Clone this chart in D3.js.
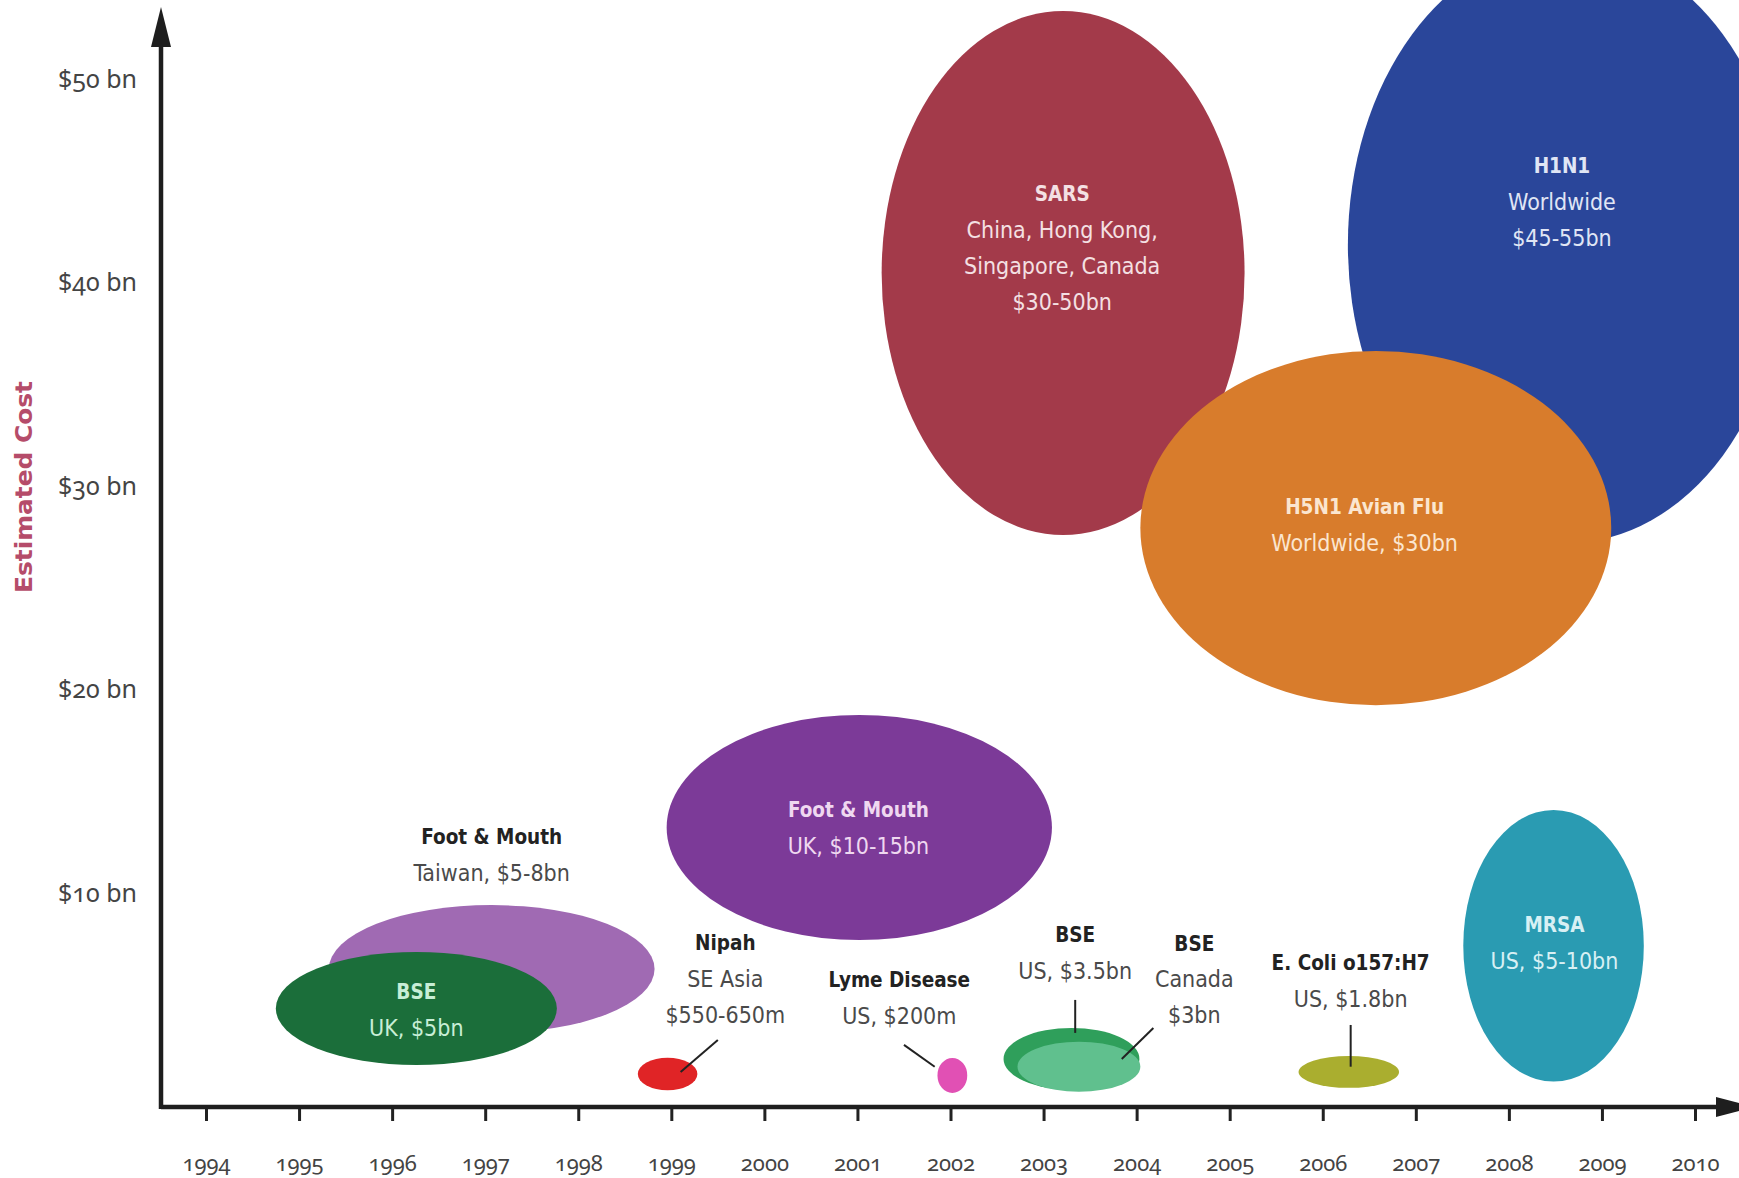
<!DOCTYPE html>
<html>
<head>
<meta charset="utf-8">
<script src="https://cdn.jsdelivr.net/npm/d3@7"></script>
<style>
body { margin: 0; background: #fff; }
.lbl { font-family: "Liberation Sans Narrow", "DejaVu Sans Condensed", "Roboto", sans-serif; font-stretch: condensed; font-size: 23px; }
.num { font-family: "Noto Sans", "DejaVu Sans", sans-serif; font-variant-numeric: oldstyle-nums; fill: #444; }
</style>
</head>
<body>
<div class="smallBox"></div>
<script>
// axis ticks
var yearTicks = [1994, 1995, 1996, 1997, 1998, 1999, 2000, 2001, 2002, 2003, 2004, 2005, 2006, 2007, 2008, 2009, 2010];
var costTicks = [10, 20, 30, 40, 50];
var costLabels = ["$10 bn", "$20 bn", "$30 bn", "$40 bn", "$50 bn"];

// outbreaks (centre year / cost in $bn, half spans)
var names = ["Foot & Mouth", "BSE", "Nipah", "Foot & Mouth", "Lyme Disease", "SARS", "H1N1", "H5N1 Avian Flu", "BSE", "BSE", "E. Coli o157:H7", "MRSA"];
var notes = [
	["Taiwan, $5-8bn"],
	["UK, $5bn"],
	["SE Asia", "$550-650m"],
	["UK, $10-15bn"],
	["US, $200m"],
	["China, Hong Kong,", "Singapore, Canada", "$30-50bn"],
	["Worldwide", "$45-55bn"],
	["Worldwide, $30bn"],
	["US, $3.5bn"],
	["Canada", "$3bn"],
	["US, $1.8bn"],
	["US, $5-10bn"]
];
var midYear  = [1997.07, 1996.26, 1998.96, 2001.02, 2002.02, 2003.21, 2008.63, 2006.57, 2003.30, 2003.38, 2006.28, 2008.48];
var midCost  = [6.28, 4.34, 1.12, 13.23, 1.05, 40.47, 41.85, 27.94, 1.86, 1.48, 1.22, 7.42];
var yearSpan = [1.75, 1.51, 0.32, 2.07, 0.16, 1.95, 2.36, 2.53, 0.73, 0.66, 0.54, 0.97];
var costSpan = [3.14, 2.78, 0.80, 5.53, 0.86, 12.87, 14.64, 8.70, 1.52, 1.23, 0.78, 6.67];

// where the first text line sits (year, cost)
var labelYear = [1997.07, 1996.26, 1999.58, 2001.01, 2001.45, 2003.20, 2008.57, 2006.45, 2003.34, 2004.62, 2006.30, 2008.49];
var labelCost = [12.76, 5.16, 7.56, 14.09, 5.74, 44.36, 45.73, 28.96, 7.95, 7.54, 6.56, 8.44];
var inside    = [false, true, false, true, false, true, true, true, false, false, false, true];
// pointer lines [year1, cost1, year2, cost2]
var leaders = [null, null, [1999.50, 2.79, 1999.10, 1.22], null, [2001.50, 2.55, 2001.83, 1.48], null, null, null,
	[2003.34, 4.76, 2003.34, 3.14], [2004.18, 3.38, 2003.84, 1.86], [2006.30, 3.53, 2006.30, 1.48], null];

var fills = ["#a06ab3", "#1b6e3a", "#e02426", "#7c3a98", "#e150b4", "#a33a4a", "#2a469a", "#d87c2c", "#2f9f5b", "#60c08e", "#aaae2f", "#2a9bb2"];
var inks  = ["#222", "#c8eed6", "#222", "#efd8f0", "#222", "#f4e0e3", "#e0e6f5", "#fbe6d0", "#222", "#222", "#222", "#d8f0f4"];

function drawchart() {
	var width = 1739;
	var height = 1178;
	var x0 = 161, y0 = 1107;
	var lineH = 36;

	var svg = d3.select(".smallBox").append("svg").attr("width", width).attr("height", height);

	var x = d3.scaleLinear().domain([1994, 2010]).range([206, 1695]);
	var y = d3.scaleLinear().domain([-0.5, 50]).range([1107, 79]);

	var idx = d3.range(names.length);

	// bubbles
	svg.append("g").selectAll("ellipse").data(idx).enter().append("ellipse").
	attr("cx", function(i) { return x(midYear[i]); }).
	attr("cy", function(i) { return y(midCost[i]); }).
	attr("rx", function(i) { return x(midYear[i] + yearSpan[i]) - x(midYear[i]); }).
	attr("ry", function(i) { return y(midCost[i]) - y(midCost[i] + costSpan[i]); }).
	attr("fill", function(i) { return fills[i]; });

	// pointer lines
	svg.append("g").selectAll("line").data(idx.filter(function(i) { return leaders[i]; })).enter().append("line").
	attr("x1", function(i) { return x(leaders[i][0]); }).
	attr("y1", function(i) { return y(leaders[i][1]); }).
	attr("x2", function(i) { return x(leaders[i][2]); }).
	attr("y2", function(i) { return y(leaders[i][3]); }).
	attr("stroke", "#222").attr("stroke-width", 2);

	// labels
	var labels = svg.append("g").selectAll("text").data(idx).enter().append("text").
	attr("class", "lbl").
	attr("text-anchor", "middle").
	attr("x", function(i) { return x(labelYear[i]); }).
	attr("y", function(i) { return y(labelCost[i]); }).
	attr("fill", function(i) { return inks[i]; });

	labels.each(function(i) {
		var t = d3.select(this);
		var lines = [names[i]].concat(notes[i]);
		lines.forEach(function(s, k) {
			t.append("tspan").
			attr("x", x(labelYear[i])).
			attr("y", y(labelCost[i]) + k * lineH).
			attr("dy", "0.35em").
			attr("font-weight", k == 0 ? "bold" : "normal").
			attr("font-size", k == 0 ? 20.5 : null).
			attr("fill", (k > 0 && !inside[i]) ? "#4a4a4a" : null).
			text(s);
		});
	});

	// y axis labels
	var ya = svg.append("g").attr("transform", "translate(" + x0 + ",0)").
	call(d3.axisLeft(y).tickValues(costTicks).tickSize(0).tickPadding(24).
	tickFormat(function(d, i) { return costLabels[i]; }));
	ya.select(".domain").remove();
	ya.selectAll("text").attr("class", "num").attr("font-size", 25).attr("fill", "#444");

	// x axis ticks
	var xa = svg.append("g").attr("transform", "translate(0," + y0 + ")").
	call(d3.axisBottom(x).tickValues(yearTicks).tickSize(14).tickPadding(34).tickFormat(d3.format("d")));
	xa.select(".domain").remove();
	xa.selectAll("line").attr("stroke", "#222").attr("stroke-width", 3);
	xa.selectAll("text").attr("class", "num").attr("font-size", 22).attr("fill", "#444");

	// axis lines and arrows
	svg.append("line").attr("x1", x0).attr("y1", y0).attr("x2", 1720).attr("y2", y0).
	attr("stroke", "#1e1e1e").attr("stroke-width", 4.5);
	svg.append("line").attr("x1", x0).attr("y1", y0 + 2).attr("x2", x0).attr("y2", 40).
	attr("stroke", "#1e1e1e").attr("stroke-width", 4.5);
	svg.append("path").attr("d", d3.line()([[x0 - 10, 47], [x0, 7], [x0 + 10, 47]]) + "Z").attr("fill", "#1e1e1e");
	svg.append("path").attr("d", d3.line()([[1716, y0 - 10], [1754, y0], [1716, y0 + 10]]) + "Z").attr("fill", "#1e1e1e");

	// axis title
	svg.append("text").attr("class", "lbl").
	attr("transform", "translate(24,487) rotate(-90)").
	attr("text-anchor", "middle").attr("dy", "0.35em").
	attr("font-weight", "bold").attr("font-size", 27).attr("fill", "#b54c6a").
	attr("textLength", 212).attr("lengthAdjust", "spacingAndGlyphs").
	text("Estimated Cost");
}
drawchart();
</script>
</body>
</html>
